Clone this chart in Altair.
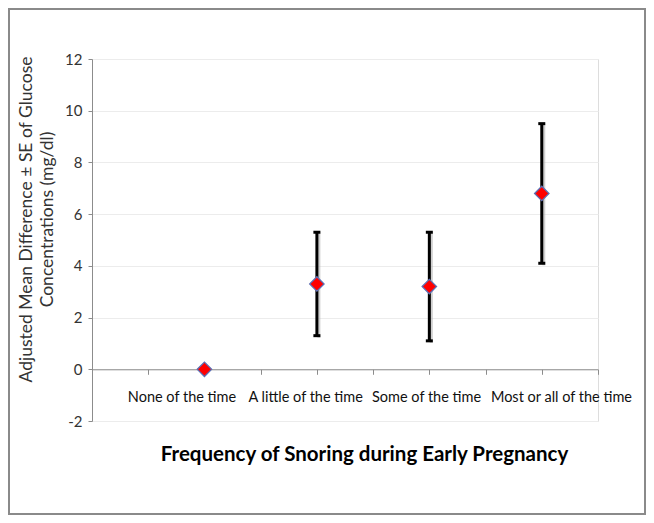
import altair as alt
import pandas as pd
import numpy as np

categories = ["None of the time", "A little of the time", "Some of the time", "Most or all of the time"]
x_pos = [2, 4, 6, 8]
means = [0.0, 3.3, 3.2, 6.8]
upper = [np.nan, 5.3, 5.3, 9.5]
lower = [np.nan, 1.3, 1.1, 4.1]
label_x = [1.6, 3.8, 5.95, 8.35]
label_y = [-1.1, -1.1, -1.1, -1.1]
y_ticks = [-2, 0, 2, 4, 6, 8, 10, 12]
x_ticks = list(range(0, 10))

y_title = ["Adjusted Mean Difference  \u00b1 SE of Glucose", "Concentrations (mg/dl)"]
x_title = "Frequency of Snoring during Early Pregnancy"

W, H = 506, 362
FONT = "Lato"

df = pd.DataFrame({"cat": categories, "x": x_pos, "mean": means,
                   "upper": upper, "lower": lower})
lab = pd.DataFrame({"cat": categories, "lx": label_x, "ly": label_y})

xs = alt.Scale(domain=[0, 9], nice=False, zero=False)
ys = alt.Scale(domain=[-2, 12], nice=False, zero=False)

base = alt.Chart(df)

x_enc = alt.X("x:Q", scale=xs,
              axis=alt.Axis(values=x_ticks, labels=False, grid=False, title=x_title,
                            offset=-H * 2 / 14, tickSize=5, domainColor="#8c8c8c",
                            tickColor="#8c8c8c", domainWidth=1,
                            titleFontSize=20.5, titleFont=FONT, titleFontWeight="bold",
                            titleColor="#000000", titlePadding=70,
                            titleX=W / 2 + 19, titleAlign="center"))
y_axis = alt.Axis(values=y_ticks, grid=True, gridColor="#ececec", title=y_title,
                  tickSize=4, domainColor="#8c8c8c", tickColor="#8c8c8c",
                  labelFontSize=15, labelColor="#333333", labelPadding=6,
                  labelExpr="toString(datum.value)",
                  titleFontSize=17.5, titleFontWeight="normal", titleColor="#333333",
                  titlePadding=8, titleLineHeight=21, labelFont=FONT, titleFont=FONT,
                  titleY=160)

axes_layer = base.mark_point(opacity=0).encode(
    x=x_enc, y=alt.Y("mean:Q", scale=ys, axis=y_axis))

err = base.transform_filter("isValid(datum.upper) && datum.upper !== null")

shadow = err.mark_rule(strokeWidth=3, color="#b0b0b0", opacity=0.6, xOffset=2, yOffset=2).encode(
    x=alt.X("x:Q", scale=xs), y=alt.Y("lower:Q", scale=ys), y2="upper:Q")
bars = err.mark_rule(strokeWidth=3, color="black").encode(
    x=alt.X("x:Q", scale=xs), y=alt.Y("lower:Q", scale=ys), y2="upper:Q")
cap_hi = err.mark_tick(orient="horizontal", size=7, thickness=3, color="black", opacity=1).encode(
    x=alt.X("x:Q", scale=xs), y=alt.Y("upper:Q", scale=ys))
cap_lo = err.mark_tick(orient="horizontal", size=7, thickness=3, color="black", opacity=1).encode(
    x=alt.X("x:Q", scale=xs), y=alt.Y("lower:Q", scale=ys))

points = base.mark_point(shape="diamond", filled=True, size=210, fill="#ff0000",
                         stroke="#5b6fb5", strokeWidth=1.2, opacity=1).encode(
    x=alt.X("x:Q", scale=xs), y=alt.Y("mean:Q", scale=ys))

labels = alt.Chart(lab).mark_text(fontSize=14.5, font=FONT, color="#111111", baseline="middle").encode(
    x=alt.X("lx:Q", scale=xs), y=alt.Y("ly:Q", scale=ys), text="cat:N")

frame = alt.Chart(lab).mark_rect(fill=None, stroke="#8a8a8a", strokeWidth=2).encode(
    x=alt.value(-83), x2=alt.value(W + 47), y=alt.value(-50), y2=alt.value(H + 93))

chart = alt.layer(axes_layer, shadow, bars, cap_hi, cap_lo, points, labels, frame).properties(
    width=W, height=H,
    autosize=alt.AutoSizeParams(type="none"),
    padding={"left": 84, "top": 51, "right": 48, "bottom": 94},
).configure_view(stroke=None).configure(background="white")

chart.save("out.html", embed_options={"renderer": "svg", "actions": False})
